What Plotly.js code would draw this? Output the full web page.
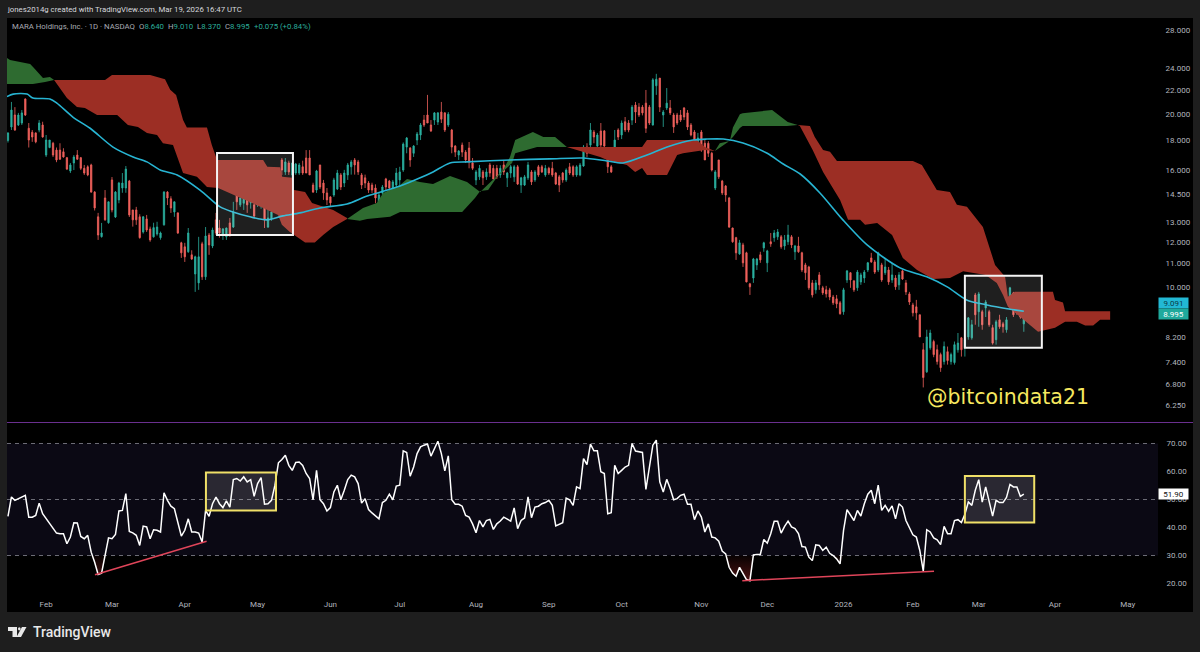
<!DOCTYPE html>
<html><head><meta charset="utf-8">
<script src="https://cdn.plot.ly/plotly-3.0.1.min.js"></script>
<style>html,body{margin:0;padding:0;background:#1e1e1e}#c{width:1200px;height:652px}</style>
</head><body><div id="c"></div>
<script>
// bar number 0 = 3 Feb 2025 (trading days only)
const firstBar=-11;
const opens=[18.0,19.0,19.93,19.15,19.3,21.25,18.9,18.6,18.55,18.77,19.15,
16.98,17.5,17.8,17.32,17.32,17.2,16.8,15.93,16.45,16.98,
16.8,16.1,16.2,16.32,14.64,13.26,12.25,14.3,12.95,15.37,
13.25,14.19,14.88,14.88,15.3,13.63,13.63,13.26,12.48,13.15,
12.63,12.24,12.38,12.2,12.84,14.64,14.25,13.52,13.47,11.95,
11.76,11.53,11.39,10.55,10.18,11.9,10.43,12.33,11.8,13.1,
12.68,12.33,12.24,12.94,12.73,14.59,13.91,14.0,14.36,14.02,
13.91,13.91,14.08,13.96,12.73,13.15,13.91,14.13,16.65,15.87,
16.45,15.68,15.8,15.8,16.2,16.78,16.78,15.06,14.76,16.32,
15.18,14.59,14.36,14.47,14.82,15.68,15.18,15.68,16.2,16.65,
16.52,15.68,15.5,15.18,15.06,14.88,13.8,14.59,15.43,15.3,
14.88,15.06,15.37,15.99,17.53,17.46,17.1,18.03,18.4,19.53,
19.93,19.15,19.53,19.38,20.17,20.1,19.15,18.77,17.6,16.98,
17.67,17.18,17.46,16.45,15.37,15.56,15.87,15.56,16.32,16.1,
16.1,15.68,16.32,15.5,15.8,15.56,16.2,15.06,15.06,15.5,
15.87,15.37,16.2,16.2,15.68,16.1,16.1,15.8,15.56,15.8,
15.37,16.2,16.2,15.68,15.68,16.25,17.53,17.67,18.62,17.6,
18.7,18.7,17.32,16.2,16.52,18.77,18.4,19.4,19.3,19.53,
20.74,20.57,20.57,20.9,20.57,19.15,22.4,23.1,19.93,20.5,
20.5,19.93,19.93,19.93,20.5,20.1,19.15,18.62,17.8,18.62,
17.8,17.8,17.1,14.88,16.65,15.3,15.0,14.3,12.68,12.2,
11.43,11.85,11.48,10.14,10.38,10.94,11.39,11.71,11.03,12.0,
12.2,12.24,12.24,11.8,12.0,12.24,11.53,11.8,11.48,10.94,
10.85,10.18,9.9,10.51,9.98,9.9,9.9,9.62,9.55,9.4,
9.07,10.3,10.6,10.26,9.98,10.22,10.38,10.72,11.25,11.07,
10.72,10.94,10.6,10.72,10.3,10.38,10.1,10.68,10.18,9.74,
9.32,9.25,8.96,7.79,7.13,7.85,8.05,7.79,7.64,7.43,
7.73,7.43,7.4,7.79,8.17,7.85,8.2,8.17,9.7,9.07,
9.07,9.21,9.07,8.51,8.11,8.78,8.64,8.44,9.25,9.78,
9.32,9.03,8.64];
const highs=[18.6,21.0,20.57,20.1,20.33,21.3,19.3,18.77,18.6,19.53,19.4,
18.4,18.03,17.9,17.5,17.8,17.45,16.85,16.45,16.98,17.32,
16.85,16.32,16.3,16.4,14.7,13.47,12.94,14.76,14.1,15.55,
14.7,15.25,15.8,16.25,15.37,13.63,13.8,13.4,13.3,13.36,
12.75,12.95,13.0,12.5,14.7,14.7,14.4,14.1,13.5,12.0,
11.95,12.68,11.6,11.35,12.24,12.0,12.73,12.43,12.7,13.47,
13.1,12.68,12.7,13.2,14.08,14.76,14.41,14.59,14.47,14.3,
14.0,14.94,14.94,14.02,13.63,13.63,14.59,16.1,16.78,16.78,
16.6,16.45,16.45,16.45,16.6,17.32,17.32,15.2,16.0,16.32,
15.37,14.88,14.4,15.5,16.0,15.8,16.0,16.45,16.65,16.78,
16.65,15.8,15.7,15.3,15.2,15.1,14.59,15.06,15.5,15.37,
15.37,16.12,16.2,17.86,18.25,17.53,17.67,18.62,19.3,19.93,
21.6,19.53,20.17,20.17,21.0,20.17,20.17,18.85,17.67,17.32,
17.85,17.32,17.89,16.78,15.99,16.32,15.99,16.1,16.45,16.32,
16.32,16.3,16.65,15.87,16.32,16.32,16.32,15.56,15.68,16.52,
15.99,15.99,16.32,16.32,16.32,16.2,16.52,15.87,15.68,15.87,
16.1,16.45,16.3,16.3,16.45,17.67,17.8,19.3,18.77,18.55,
19.3,18.77,17.32,16.32,18.77,18.9,19.5,19.77,19.53,20.74,
21.0,20.9,20.74,22.03,20.74,23.1,23.5,23.1,20.33,22.2,
21.16,20.1,20.1,20.33,20.57,20.33,19.3,18.77,18.55,18.77,
18.03,17.95,17.2,15.99,16.65,15.37,15.06,14.36,12.7,12.24,
12.09,11.95,11.53,10.18,11.25,11.25,11.53,12.0,11.62,12.43,
12.58,12.63,12.33,12.33,12.84,12.33,11.85,12.24,11.53,11.03,
10.9,10.3,10.3,10.63,10.06,10.06,9.98,9.7,9.7,9.47,
9.98,10.72,10.63,10.3,10.72,10.6,10.72,11.07,11.48,11.16,
11.53,11.03,11.25,10.85,11.03,10.5,10.63,10.72,10.3,9.82,
9.4,9.51,8.96,8.0,8.44,8.44,8.11,7.95,7.7,8.05,
7.89,7.7,8.05,8.33,8.2,8.17,8.88,8.78,9.78,9.82,
9.14,9.51,9.14,8.61,8.78,8.96,8.71,8.88,10.02,9.82,
9.51,9.14,9.01];
const lows=[17.85,18.77,18.7,19.07,19.15,19.85,17.5,17.9,17.8,18.6,18.2,
16.85,17.45,16.85,16.5,16.65,16.8,15.99,15.8,15.99,16.65,
15.99,15.68,15.6,14.6,13.6,12.09,12.2,13.05,12.9,13.5,
13.2,14.0,14.6,14.6,13.25,12.75,12.84,12.15,12.4,12.48,
12.0,12.2,12.3,12.1,12.8,13.9,13.47,13.26,12.38,11.25,
11.07,11.48,11.16,9.82,9.9,10.3,10.3,11.39,11.7,12.33,
12.2,12.09,12.09,12.24,12.68,13.63,13.8,13.63,13.47,13.7,
13.2,13.8,13.7,12.68,12.68,13.05,13.8,14.0,15.68,15.68,
15.68,15.37,15.68,15.68,15.68,15.8,15.68,14.59,14.59,14.82,
14.19,13.9,13.85,14.36,14.76,14.76,14.94,15.37,15.7,15.7,
15.68,14.82,14.88,14.59,14.59,14.0,13.47,14.47,14.76,14.59,
14.76,14.94,15.0,15.87,17.1,16.2,16.85,17.67,18.03,19.0,
19.3,18.62,19.15,19.15,19.3,18.62,19.0,17.1,16.85,16.65,
16.85,16.45,16.1,15.99,15.06,15.37,15.06,15.37,15.56,15.37,
15.43,15.5,15.68,14.94,15.5,15.25,15.06,14.59,15.0,15.37,
15.06,15.25,15.56,15.8,15.56,15.68,15.56,15.06,14.64,15.2,
15.25,15.68,15.56,15.56,15.6,16.2,16.85,17.32,17.8,17.46,
17.32,17.53,15.8,15.8,16.45,18.03,18.1,18.62,18.6,19.15,
19.3,19.77,19.9,18.55,19.15,19.1,21.6,20.17,19.0,20.33,
19.93,18.55,19.15,19.38,19.53,18.77,18.3,17.67,17.67,17.2,
16.65,16.85,15.9,14.76,15.43,14.47,14.08,12.68,11.95,11.16,
11.39,10.85,10.2,9.7,10.18,10.72,11.03,11.53,10.63,11.76,
12.0,12.09,11.67,11.62,11.85,11.7,11.16,11.48,10.63,10.3,
9.9,9.6,9.75,9.9,9.7,9.6,9.5,9.32,9.2,8.96,
8.96,10.18,9.98,9.82,9.86,10.1,10.18,10.63,11.03,10.55,
10.63,10.22,10.51,10.1,10.18,9.9,9.9,10.3,9.7,9.32,
8.9,8.78,8.2,6.7,7.1,7.79,7.56,7.34,7.13,7.34,
7.34,7.34,7.34,7.7,7.58,7.58,8.11,8.11,8.61,8.54,
8.44,8.88,8.54,7.95,7.95,8.47,8.34,8.34,9.14,8.88,
8.96,8.82,8.37];
const closes=[18.55,20.33,18.77,19.93,20.1,19.93,18.03,18.25,17.9,19.3,18.25,
18.03,18.03,16.98,16.65,16.7,16.85,16.05,16.32,16.85,16.7,
16.1,15.8,15.68,14.64,13.74,12.33,12.43,13.1,14.08,13.63,
14.64,15.18,15.18,16.05,13.36,13.1,13.1,12.2,13.26,12.58,
12.09,12.7,12.73,12.43,14.64,14.3,13.74,14.08,12.43,11.48,
11.3,12.43,11.2,11.3,11.3,10.43,12.28,11.85,12.58,12.43,
12.43,12.63,12.68,12.33,13.52,14.08,14.3,14.3,13.91,14.19,
13.3,14.64,14.82,13.1,13.2,13.52,14.36,15.99,15.99,16.52,
15.87,16.45,16.38,16.32,15.8,15.8,15.68,14.64,15.93,14.94,
14.59,14.19,14.02,15.37,15.8,14.94,15.8,16.32,16.52,16.32,
15.87,15.06,15.18,14.76,14.76,14.3,14.47,14.94,14.94,14.88,
15.25,15.8,15.87,17.74,18.18,16.65,17.6,18.47,19.15,19.15,
19.3,18.7,20.1,20.1,19.6,18.77,20.0,17.53,17.18,17.25,
17.18,16.65,16.52,16.1,15.87,16.1,15.5,15.87,15.8,15.43,
15.56,16.1,15.87,15.8,16.2,16.2,15.12,15.5,15.56,16.32,
15.25,15.87,15.68,15.87,16.1,15.8,15.68,15.12,15.06,15.37,
15.99,15.8,15.68,16.2,16.32,17.53,17.1,18.77,18.25,18.4,
17.67,17.6,16.2,15.87,18.03,18.25,19.3,18.77,18.77,20.57,
20.17,19.93,20.1,18.9,19.3,22.94,23.0,20.57,20.17,20.9,
20.1,19.0,19.3,19.53,19.77,19.0,18.4,17.89,18.18,17.32,
16.65,17.1,15.99,15.87,15.56,14.59,14.47,12.73,12.0,11.48,
11.95,11.03,10.22,10.02,11.2,11.2,11.16,11.95,11.57,11.9,
12.43,12.48,11.76,12.09,12.33,11.85,11.8,11.53,10.72,10.6,
9.98,9.7,10.18,10.1,9.78,9.74,9.62,9.4,9.36,9.0,
9.9,10.68,10.3,9.9,10.63,10.51,10.63,11.03,11.07,10.63,
11.48,10.3,10.85,10.22,10.51,10.02,10.51,10.34,9.82,9.43,
9.03,9.03,8.2,6.97,8.2,8.33,7.64,7.43,7.25,7.89,
7.46,7.64,7.95,8.0,7.79,8.11,8.85,8.61,8.96,9.74,
8.61,9.43,8.61,8.0,8.71,8.54,8.54,8.78,9.98,8.96,
9.03,8.88,8.995];
const rsi=[44.0,50.9,49.7,50.3,51.1,51.5,43.7,43.7,44.3,48.7,44.9,
43.1,41.3,39.6,38.0,37.8,37.8,34.2,36.6,41.7,41.6,
36.8,36.0,37.2,31.2,27.6,23.2,23.7,30.0,36.3,36.0,
37.5,45.9,46.1,52.1,38.6,38.1,37.2,33.6,40.5,40.2,
36.0,39.2,39.0,38.4,52.4,49.7,47.6,46.7,41.3,36.9,
39.0,43.1,38.4,38.4,38.0,34.8,46.1,44.0,48.5,50.9,
48.5,47.1,49.5,47.3,57.1,57.5,56.6,58.1,56.3,57.1,
51.1,55.7,57.8,48.3,48.5,49.7,55.1,63.1,64.3,65.8,
62.2,60.4,63.2,63.4,62.2,59.3,57.5,49.9,60.4,49.9,
48.5,45.9,47.1,52.7,55.1,49.9,53.3,57.1,58.7,58.1,
55.7,48.7,50.3,46.4,45.2,44.1,43.1,48.9,49.7,51.9,
49.9,54.8,55.1,
67.4,66.8,58.3,61.6,66.4,68.8,69.4,69.8,65.5,68.2,
70.8,66.4,60.2,65.6,49.9,48.3,48.3,47.6,44.3,43.7,
41.3,38.1,42.5,40.2,42.5,42.9,39.3,41.3,42.3,43.7,
42.9,42.3,47.0,39.6,42.5,43.4,50.9,43.5,47.3,47.6,
48.5,48.9,49.7,47.9,40.6,41.3,41.7,50.5,49.9,47.9,
54.5,53.9,64.6,62.5,69.8,67.4,67.4,59.9,59.3,44.9,
45.3,62.2,59.3,60.4,61.6,62.2,70.0,67.3,67.0,66.8,
53.6,61.6,69.4,71.2,56.3,52.7,57.2,53.9,49.9,50.3,
51.5,51.9,48.3,48.3,42.8,45.9,43.7,38.4,41.3,36.6,
36.3,35.1,31.6,30.6,25.8,23.7,22.6,25.8,23.4,21.4,
21.0,30.2,30.4,30.4,35.7,34.4,37.8,42.2,42.2,38.0,
40.4,42.3,40.2,39.6,37.8,33.2,33.0,29.4,28.2,33.8,
33.6,31.8,33.0,30.8,30.0,28.8,27.0,39.0,46.4,44.3,
42.5,46.1,44.1,48.5,51.9,53.3,48.5,55.1,46.1,47.9,
45.8,47.7,43.1,48.5,47.3,42.5,40.2,37.4,36.6,31.8,
24.4,39.2,38.4,36.3,35.6,33.9,40.4,37.8,37.8,42.5,
42.8,41.8,44.7,49.1,47.9,53.3,57.1,49.1,54.5,49.7,
44.1,49.7,48.9,48.9,50.7,55.4,54.5,54.5,51.1,51.9];

const emaBars=[-11.3,-9.5,-5.5,-3.8,1.1,3.1,7.8,12.7,19.3,25.1,29.1,32.9,37.8,44.4,50.2,53.9,58.8,63.7,68.3,73.2,79,86.8,92.6,102.1,107.9,111.6,116.5,121.4,133.8,145.3,154.9,161.8,166.4,173.3,179.1,186.6,190.6,195.3,201,208,212.6,217.5,223.2,229.8,236.8,246.3,254,259.9,265.5,271.4,277.2,282];
const emaValues=[21.45,21.67,21.67,21.33,21.25,20.9,19.75,18.9,17.53,16.85,16.52,15.99,15.68,14.76,13.8,13.52,13.26,13.1,13.31,13.47,13.74,13.96,14.41,15.0,15.5,15.87,16.45,16.52,16.65,16.72,16.78,16.58,16.45,16.98,17.53,18.03,18.1,18.1,17.82,17.1,16.38,15.74,14.59,13.1,11.85,10.81,10.43,10.02,9.51,9.32,9.18,9.09];

const green1TopBars=[-11.3,-10.4,-7.5,-4.6,-3.5,-2.3,-0.9,1.1,2.3];
const green1Top=[25.05,24.83,24.63,24.44,24.05,23.6,23.1,23.2,22.92];
const green1BaseBars=[-11.3,-3.8,-0.3,2.3];
const green1Base=[22.56,22.56,22.74,22.92];
const red1TopBars=[2.3,17,19,30,34.3,35.8,37.5,39.5,40.6,46.4,47.8,49.3,62.6,63.8,67.5,68.1,71,71.5,74.7,76.7,82.8,86.8];
const red1Top=[22.92,22.92,23.39,23.39,23.0,22.05,21.6,19.53,18.95,18.95,17.67,16.65,16.65,16.2,16.17,15.56,15.5,14.76,14.64,14.02,13.63,13.2];
const red1BaseBars=[2.3,6,8.9,11.2,14.7,20.5,23.6,26.5,29.1,32,33.7,36.6,39.5,43.5,46.4,49.6,55.9,62.6,66.9,68,70.3,74.7,77.5,79.9,82.8,86.8];
const red1Base=[22.92,21.33,20.57,20.5,19.93,19.93,19.15,19.0,18.55,18.4,17.8,17.67,15.8,15.56,14.94,14.88,14.3,13.74,13.36,12.84,12.48,11.97,11.97,12.33,12.73,13.15];
const green2TopBars=[86.8,91.4,95.4,97.2,102.1,104.1,107.8,111.6,116.5,121.4,125.2,128,131.8,133.8,135.3,140.4,143.4,146.8,150.2];
const green2Top=[13.15,13.74,14.02,14.59,15.06,15.43,15.25,15.12,15.62,15.25,14.64,15.18,15.99,16.85,18.03,18.62,18.25,18.25,17.53];
const green2BaseBars=[86.8,90.5,92.6,99.2,102.1,120,123.7,125.2,127.5,130.1,134.4,135.3,141.6,150.2];
const green2Base=[13.15,13.05,13.15,13.26,13.52,13.52,14.3,14.7,14.76,15.56,16.45,17.1,17.53,17.53];
const red2TopBars=[150.2,171.9,173.3,187.7,190,192.9];
const red2Top=[17.53,17.53,18.03,18.03,17.53,17.25];
const red2BaseBars=[150.2,159.8,161.8,167.5,169.9,171.9,173.3,179.1,182,183.7,190,192.9];
const red2Base=[17.53,16.85,16.65,16.32,15.87,16.12,15.68,15.68,16.98,17.1,17.32,17.25];
const green3TopBars=[192.9,194.3,197.2,198.1,200.1,200.9,209.4,213.9,216.8];
const green3Top=[17.25,17.8,17.96,18.95,20.0,20.08,20.33,19.38,19.15];
const green3BaseBars=[192.9,196.7,198.1,200.1,200.9,213.7,216.8];
const green3Base=[17.25,17.89,18.25,18.92,19.07,19.07,19.15];
const red3TopBars=[216.8,220.3,221.7,224.1,226.1,228.1,250,252.6,256.9,260.7,262.7,265.6,270.2,273.7,276.6,277.4,279.4,290.4,291,293.3,293.9,306.9];
const red3Top=[19.15,19.07,18.25,17.32,17.2,16.58,16.58,16.32,14.76,14.64,13.91,13.8,12.73,10.94,10.43,9.63,9.83,9.83,9.51,9.41,9.09,9.09];
const red3BaseBars=[216.8,217.4,221.1,224.1,229,231.3,234.8,236.2,239.7,244,247.1,251.2,255.8,260.7,264.5,271,274.2,276,277.4,280.9,286.1,288.7,291,293.9,297.3,299.7,302,304,306.9];
const red3Base=[19.15,19.07,17.32,15.87,14.19,13.1,13.1,12.84,12.94,12.33,11.25,10.72,10.34,10.38,10.66,10.51,10.18,9.7,9.25,8.89,8.37,8.44,8.51,8.71,8.71,8.58,8.58,8.78,8.78];

const divergenceBarsA=[14.1,46.3], divergenceRsiA=[23.1,35.1];
const divergenceBarsB=[200.8,256.1], divergenceRsiB=[21.0,24.4];
const priceBoxA={bars:[49.3,71.2],prices:[12.33,17.12]};
const priceBoxB={bars:[265,287.2],prices:[7.85,10.47]};
const rsiBoxA={bars:[46.1,66.3],values:[46.1,59.6]};
const rsiBoxB={bars:[265,285],values:[41.8,58.4]};

const xTickBars=[0,19,40,61,82,102,124,145,166,189,208,230,250,269,291,312];
const xTickLabels=['Feb','Mar','Apr','May','Jun','Jul','Aug','Sep','Oct','Nov','Dec','2026','Feb','Mar','Apr','May'];
const priceTicks=[28,24,22,20,18,16,14.5,13,12,11,10,8.2,7.4,6.8,6.25];
const rsiTicks=[20,30,40,50,60,70];
const lastEma=9.091, lastClose=8.995, lastRsi=51.90;

const bars=opens.map((_,k)=>k+firstBar);
const TEAL='#2bb0a0',RED='#f0615c',CLOUDR='#9c2e24',CLOUDG='#2e6b30',GREY='#b2b5be';
const font='Roboto, sans-serif';
const cloud=(tb,t,bb,b,c)=>({type:'scatter',mode:'lines',x:tb.concat(bb.slice().reverse()),y:t.concat(b.slice().reverse()),
  fill:'toself',fillcolor:c,line:{width:0,color:c},xaxis:'x',yaxis:'y',hoverinfo:'skip',showlegend:false});
const traces=[
 cloud(green1TopBars,green1Top,green1BaseBars,green1Base,CLOUDG),
 cloud(red1TopBars,red1Top,red1BaseBars,red1Base,CLOUDR),
 cloud(green2TopBars,green2Top,green2BaseBars,green2Base,CLOUDG),
 cloud(red2TopBars,red2Top,red2BaseBars,red2Base,CLOUDR),
 cloud(green3TopBars,green3Top,green3BaseBars,green3Base,CLOUDG),
 cloud(red3TopBars,red3Top,red3BaseBars,red3Base,CLOUDR),
 {type:'candlestick',x:bars,open:opens,high:highs,low:lows,close:closes,xaxis:'x',yaxis:'y',
  whiskerwidth:0,increasing:{line:{color:TEAL,width:0.8},fillcolor:TEAL},decreasing:{line:{color:RED,width:0.8},fillcolor:RED},showlegend:false},
 {type:'scatter',mode:'lines',x:emaBars,y:emaValues,xaxis:'x',yaxis:'y',line:{color:'#27b4d2',width:1.6,shape:'spline',smoothing:0.8},showlegend:false},
 {type:'scatter',mode:'lines',x:bars,y:bars.map(()=>30),xaxis:'x',yaxis:'y2',line:{width:0},hoverinfo:'skip',showlegend:false},
 {type:'scatter',mode:'lines',x:bars,y:rsi.map(v=>Math.min(v,30)),xaxis:'x',yaxis:'y2',line:{width:0},fill:'tonexty',
  fillgradient:{type:'vertical',colorscale:[[0,'rgba(150,35,35,0.5)'],[1,'rgba(150,35,35,0.05)']]},hoverinfo:'skip',showlegend:false},
 {type:'scatter',mode:'lines',x:bars,y:rsi,xaxis:'x',yaxis:'y2',line:{color:'#ffffff',width:1.5},showlegend:false},
 {type:'scatter',mode:'lines',x:divergenceBarsA,y:divergenceRsiA,xaxis:'x',yaxis:'y2',line:{color:'#e0455a',width:1.5},showlegend:false},
 {type:'scatter',mode:'lines',x:divergenceBarsB,y:divergenceRsiB,xaxis:'x',yaxis:'y2',line:{color:'#e0455a',width:1.5},showlegend:false}
];
const PX=v=>v/1200, PY=v=>1-v/652;
const poly=(pts,c)=>({type:'path',xref:'paper',yref:'paper',layer:'above',fillcolor:c,line:{width:0},
  path:'M'+pts.map(p=>PX(p[0])+','+PY(p[1])).join('L')+'Z'});
const shapes=[
 {type:'rect',xref:'paper',yref:'paper',x0:PX(7),x1:PX(1193),y0:PY(612),y1:PY(18),fillcolor:'#000',line:{width:0},layer:'below'},
 {type:'rect',xref:'x domain',yref:'y2',x0:0,x1:1,y0:30,y1:70,fillcolor:'#0b0914',line:{width:0},layer:'below'},
 ...[30,50,70].map(v=>({type:'line',xref:'x domain',yref:'y2',x0:0,x1:1,y0:v,y1:v,line:{color:'#6c6c76',width:1,dash:'4px,4px'},layer:'below'})),
 {type:'line',xref:'paper',yref:'paper',x0:PX(7),x1:PX(1193),y0:PY(422.5),y1:PY(422.5),line:{color:'#6a2f8f',width:1}},
 ...[priceBoxA,priceBoxB].map(b=>({type:'rect',xref:'x',yref:'y',x0:b.bars[0],x1:b.bars[1],y0:b.prices[0],y1:b.prices[1],fillcolor:'rgba(255,255,255,0.12)',line:{color:'#f4f4f4',width:2},layer:'above'})),
 ...[rsiBoxA,rsiBoxB].map(b=>({type:'rect',xref:'x',yref:'y2',x0:b.bars[0],x1:b.bars[1],y0:b.values[0],y1:b.values[1],fillcolor:'rgba(255,255,255,0.13)',line:{color:'#f0e068',width:2},layer:'above'})),
 poly([[8,627],[17,627],[17,637],[12.5,637],[12.5,631],[8,631]],'#e8e8e8'),
 poly([[26.5,627],[21,637],[16.5,637],[22,627]],'#e8e8e8'),
 {type:'circle',xref:'paper',yref:'paper',x0:PX(18),x1:PX(20.6),y0:PY(630.4),y1:PY(627.2),fillcolor:'#e8e8e8',line:{width:0},layer:'above'}
];
const ann=(text,x,y,opts)=>Object.assign({text,x:PX(x-2),y:PY(y),xref:'paper',yref:'paper',showarrow:false,xanchor:'left',yanchor:'middle',
  font:{family:font,size:7.8,color:'#c8cad0'}},opts||{});
const teal='#2bae9c';
const val=(l,v)=>`<span style="color:#a8abb3">${l}</span><span style="color:${teal}">${v}</span>`;
const annotations=[
 ann('jones2014g created with TradingView.com, Mar 19, 2026 16:47 UTC',7,9.5,{font:{family:font,size:7.8,color:'#d6d8dd'}}),
 ann('MARA Holdings, Inc. · 1D · NASDAQ',12,27,{font:{family:font,size:7.8,color:'#a8abb3'}}),
 ann(val('O','8.640'),139,27),
 ann(val('H','9.010'),168,27),
 ann(val('L','8.370'),197,27),
 ann(val('C','8.995'),225,27),
 ann('<span style="color:'+teal+'">+0.075 (+0.84%)</span>',254,27),
 ann('@bitcoindata21',927,397,{font:{family:'DejaVu Sans',size:20.5,color:'#f6e85f'}}),
 ann('TradingView',33,632,{font:{family:font,size:14,color:'#e8e8e8',weight:500}}),
 {text:lastEma.toFixed(3),xref:'paper',yref:'y',x:PX(1158),y:Math.log10(lastEma),yshift:8,showarrow:false,xanchor:'left',yanchor:'middle',width:29,height:10,borderpad:0,bgcolor:'#22b8d4',font:{family:font,size:8,color:'#0a3a46'}},
 {text:lastClose.toFixed(3),xref:'paper',yref:'y',x:PX(1158),y:Math.log10(lastClose),showarrow:false,xanchor:'left',yanchor:'middle',width:29,height:10,borderpad:0,bgcolor:'#1fa99c',font:{family:font,size:8,color:'#ffffff'}},
 {text:lastRsi.toFixed(2),xref:'paper',yref:'y2',x:PX(1158),y:lastRsi,showarrow:false,xanchor:'left',yanchor:'middle',width:29,height:10,borderpad:0,bgcolor:'#ffffff',font:{family:font,size:8,color:'#111111'}}
];
const layout={
 width:1200,height:652,margin:{l:0,r:0,t:0,b:0},paper_bgcolor:'#1e1e1e',plot_bgcolor:'rgba(0,0,0,0)',showlegend:false,hovermode:false,boxgap:0.45,
 font:{family:font,size:8,color:GREY},
 xaxis:{domain:[PX(7),PX(1158)],range:[-11.28,320.7],anchor:'y2',tickmode:'array',tickvals:xTickBars,ticktext:xTickLabels,ticks:'',
   ticklabelposition:'inside',showgrid:false,zeroline:false,showline:false,rangeslider:{visible:false},tickfont:{family:font,size:8,color:GREY},fixedrange:true},
 yaxis:{domain:[1-422.5/652,1-18/652],type:'log',range:[0.7651,1.4681],side:'right',anchor:'x',tickmode:'array',tickvals:priceTicks,
   ticktext:priceTicks.map(v=>v.toFixed(3)),ticks:'outside',ticklen:5,tickcolor:'rgba(0,0,0,0)',showgrid:false,zeroline:false,showline:false,tickfont:{family:font,size:8,color:GREY},fixedrange:true},
 yaxis2:{domain:[1-612/652,1-423/652],range:[9.82,77.32],side:'right',anchor:'x',tickmode:'array',tickvals:rsiTicks,
   ticktext:rsiTicks.map(v=>v.toFixed(2)),ticks:'outside',ticklen:6,tickcolor:'rgba(0,0,0,0)',showgrid:false,zeroline:false,showline:false,tickfont:{family:font,size:8,color:GREY},fixedrange:true},
 shapes,annotations
};
Plotly.newPlot('c',traces,layout,{staticPlot:true,displayModeBar:false});
</script></body></html>
